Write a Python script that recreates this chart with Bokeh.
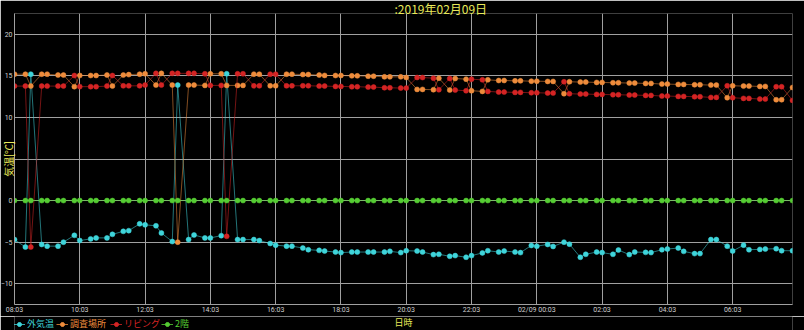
from bokeh.plotting import figure
from bokeh.layouts import column
from bokeh.models import Range1d, FixedTicker, Label, Legend, LegendItem, ColumnDataSource
from bokeh.embed import file_html
from bokeh.resources import INLINE

# ---- data ----
times = [
    "08:03","08:23","08:33","08:53","09:03","09:23","09:33","09:53",
    "10:03","10:23","10:33","10:53","11:03","11:23","11:33","11:53",
    "12:03","12:23","12:33","12:53","13:03","13:23","13:33","13:53",
    "14:03","14:23","14:33","14:53","15:03","15:23","15:33","15:53",
    "16:03","16:23","16:33","16:53","17:03","17:23","17:33","17:53",
    "18:03","18:23","18:33","18:53","19:03","19:23","19:33","19:53",
    "20:03","20:23","20:33","20:53","21:03","21:23","21:33","21:53",
    "22:03","22:23","22:33","22:53","23:03","23:23","23:33","23:53",
    "00:03","00:23","00:33","00:53","01:03","01:23","01:33","01:53",
    "02:03","02:23","02:33","02:53","03:03","03:23","03:33","03:53",
    "04:03","04:23","04:33","04:53","05:03","05:23","05:33","05:53",
    "06:03","06:23","06:33","06:53","07:03","07:23","07:33","07:53",
]

gaikion = [  # 外気温
    -4.69, -5.59, 15.2, -5.28, -5.48, -5.48, -5.0, -4.18,
    -4.81, -4.61, -4.49, -4.49, -4.06, -3.7, -3.62, -2.8,
    -2.92, -3.03, -3.9, -4.93, 13.89, -4.69, -4.14, -4.49,
    -4.49, -4.22, 15.25, -4.69, -4.69, -4.69, -4.81, -5.16,
    -5.36, -5.48, -5.48, -5.71, -5.91, -5.99, -6.07, -6.19,
    -6.26, -6.19, -6.19, -6.19, -6.19, -6.19, -6.11, -6.26,
    -6.03, -6.07, -6.19, -6.5, -6.46, -6.7, -6.62, -6.82,
    -6.62, -6.3, -6.03, -6.19, -6.07, -6.19, -6.26, -5.4,
    -5.48, -5.28, -5.52, -5.0, -5.24, -6.82, -6.46, -6.19,
    -6.26, -6.46, -5.95, -6.5, -6.19, -6.23, -6.26, -5.91,
    -5.83, -5.71, -6.11, -6.38, -6.38, -4.69, -4.69, -5.48,
    -6.07, -5.36, -5.91, -5.87, -5.83, -5.79, -6.03, -6.03,
]

chousa = [  # 調査場所
    15.2, 15.2, 13.77, 15.2, 15.2, 15.1, 15.1, 13.7,
    15.04, 15.04, 15.04, 15.1, 13.77, 15.1, 15.15, 15.2,
    15.25, 13.89, 15.3, 13.89, -5.0, 13.89, 13.89, 13.85,
    15.25, 15.25, 13.85, 13.85, 13.85, 15.2, 15.2, 13.8,
    13.8, 15.2, 15.2, 15.16, 15.16, 15.1, 15.05, 15.04,
    15.04, 15.0, 15.0, 14.96, 14.96, 14.88, 14.88, 14.88,
    14.8, 13.37, 13.37, 13.33, 14.72, 13.29, 14.68, 14.6,
    13.21, 13.13, 14.52, 14.44, 14.44, 14.4, 14.4, 14.36,
    14.36, 14.33, 14.33, 12.85, 14.29, 14.25, 14.25, 14.21,
    14.21, 14.17, 14.17, 14.13, 14.13, 14.09, 14.09, 14.01,
    14.01, 13.97, 13.97, 13.93, 13.93, 13.89, 13.89, 12.37,
    13.81, 13.77, 13.77, 13.73, 13.73, 12.13, 12.13, 13.6,
]

living = [  # リビング
    13.77, 13.77, -5.59, 13.77, 13.77, 13.77, 13.77, 15.04,
    13.7, 13.7, 13.7, 13.77, 15.04, 13.8, 13.8, 13.8,
    13.89, 15.3, 13.89, 15.3, 15.3, 15.3, 15.3, 15.25,
    13.85, 13.85, -4.3, 15.25, 15.25, 13.8, 13.8, 15.2,
    15.2, 13.8, 13.8, 13.81, 13.81, 13.77, 13.77, 13.73,
    13.73, 13.69, 13.69, 13.65, 13.65, 13.57, 13.57, 13.53,
    13.53, 14.8, 14.8, 14.72, 13.33, 14.68, 13.29, 13.21,
    14.6, 14.52, 13.13, 13.05, 13.05, 13.01, 13.01, 12.97,
    12.97, 12.93, 12.93, 14.29, 12.85, 12.81, 12.81, 12.77,
    12.77, 12.73, 12.73, 12.69, 12.69, 12.65, 12.65, 12.57,
    12.57, 12.53, 12.53, 12.49, 12.49, 12.41, 12.41, 13.81,
    12.37, 12.29, 12.29, 12.21, 12.21, 13.69, 13.69, 12.05,
]

nikai = [  # 2階
    0, 0, 0, 0, 0, 0, 0, 0, 0, 0, 0, 0, 0, 0, 0, 0,
    0, 0, 0, 0, 0, 0, 0, 0, 0, 0, 0, 0, 0, 0, 0, 0,
    0, 0, 0, 0, 0, 0, 0, 0, 0, 0, 0, 0, 0, 0, 0, 0,
    0, 0, 0, 0, 0, 0, 0, 0, 0, 0, 0, 0, 0, 0, 0, 0,
    0, 0, 0, 0, 0, 0, 0, 0, 0, 0, 0, 0, 0, 0, 0, 0,
    0, 0, 0, 0, 0, 0, 0, 0, 0, 0, 0, 0, 0, 0, 0, 0,
]

series_names = ["外気温", "調査場所", "リビング", "2階"]
series_colors = ["#3fd4da", "#ee8c3c", "#d42424", "#55cc33"]

tick_times = ["08:03", "10:03", "12:03", "14:03", "16:03", "18:03", "20:03",
              "22:03", "00:03", "02:03", "04:03", "06:03"]
tick_labels = ["08:03", "10:03", "12:03", "14:03", "16:03", "18:03", "20:03",
               "22:03", "02/09 00:03", "02:03", "04:03", "06:03"]
y_ticks = [-10, -5, 0, 5, 10, 15, 20]

title_text = ":2019年02月09日"
x_title = "日時"
y_title = "気温[℃]"


def to_min(s):
    h, m = s.split(":")
    v = int(h) * 60 + int(m) - (8 * 60 + 3)
    if v < 0:
        v += 1440
    return v


xs = [to_min(t) for t in times]
tick_pos = [to_min(t) for t in tick_times]

BG = "#000000"
GRID = "#a0a0a0"
TXT = "#cfcfcf"
YEL = "#eaea5a"
JP = "Noto Sans CJK JP"
JP_COMPACT = "Roboto, 'Noto Sans CJK JP'"

src = ColumnDataSource(dict(x=xs, a=gaikion, b=chousa, c=living, d=nikai))
cols = ["a", "b", "c", "d"]

# ---- main chart ----
p = figure(width=804, height=316, output_backend="svg", toolbar_location=None,
           x_range=Range1d(xs[0], xs[-1]), y_range=Range1d(-12.5, 22.5),
           background_fill_color=BG, border_fill_color=BG,
           min_border_left=12, min_border_right=12, min_border_top=0,
           min_border_bottom=10)
p.outline_line_color = None

p.title.text = title_text
p.title.text_color = YEL
p.title.text_font = JP
p.title.text_font_size = "12px"
p.title.text_font_style = "normal"
p.title.align = "left"
p.title.offset = 380
p.title.standoff = -6

p.xaxis.ticker = FixedTicker(ticks=tick_pos)
p.xaxis.major_label_overrides = {tp: lb for tp, lb in zip(tick_pos, tick_labels)}
p.yaxis.ticker = FixedTicker(ticks=y_ticks)
p.yaxis.major_label_overrides = {5: ""}
for ax in (p.xaxis[0], p.yaxis[0]):
    ax.axis_line_color = GRID
    ax.major_tick_line_color = None
    ax.minor_tick_line_color = None
    ax.major_tick_out = 0
    ax.major_tick_in = 0
    ax.major_label_text_color = TXT
    ax.major_label_text_font_size = "7px"
    ax.major_label_text_font = "Roboto"
p.xaxis.major_label_standoff = 1
p.yaxis.major_label_standoff = 2

p.yaxis.axis_label = y_title
p.yaxis.axis_label_text_color = YEL
p.yaxis.axis_label_text_font = JP_COMPACT
p.yaxis.axis_label_text_font_size = "10px"
p.yaxis.axis_label_text_font_style = "normal"
p.yaxis.axis_label_standoff = -17

p.xgrid.ticker = FixedTicker(ticks=tick_pos)
p.ygrid.ticker = FixedTicker(ticks=y_ticks)
p.xgrid.grid_line_color = GRID
p.ygrid.grid_line_color = GRID

for col, color in zip(cols, series_colors):
    p.line("x", col, source=src, line_color=color, line_width=1, line_alpha=0.55)
    p.scatter("x", col, source=src, size=5, fill_color=color, line_color=color,
              line_width=0.5)

# ---- bottom strip: axis title + legend (series data lie outside its y range) ----
b = figure(width=804, height=14, output_backend="svg", toolbar_location=None,
           x_axis_location=None, y_axis_location=None,
           x_range=Range1d(12, 792), y_range=Range1d(100, 114),
           background_fill_color=BG, border_fill_color=BG,
           min_border_left=12, min_border_right=12,
           min_border_top=0, min_border_bottom=0)
b.outline_line_color = None
b.grid.visible = False

legend_x = [-1, 42, 96, 147]
for name, col, color, lx in zip(series_names, cols, series_colors, legend_x):
    ln = b.line("x", col, source=src, line_color=color, line_width=1, line_alpha=0.8)
    sc = b.scatter("x", col, source=src, size=5, fill_color=color, line_color=color)
    lg = Legend(items=[LegendItem(label=name, renderers=[ln, sc])], location=(lx, 0),
                orientation="horizontal", padding=0, margin=0, spacing=0,
                label_text_font_size="9px", label_text_font=JP,
                label_text_color=color, label_height=10, glyph_height=10,
                glyph_width=12, label_standoff=2,
                background_fill_alpha=0, border_line_alpha=0)
    b.add_layout(lg, "center")

b.add_layout(Label(x=402, y=108.5, text=x_title, text_color=YEL,
                   text_font=JP, text_font_size="9px",
                   text_align="center", text_baseline="middle"))

layout = column(p, b, spacing=0)
open("out.html", "w").write(file_html(layout, INLINE))
